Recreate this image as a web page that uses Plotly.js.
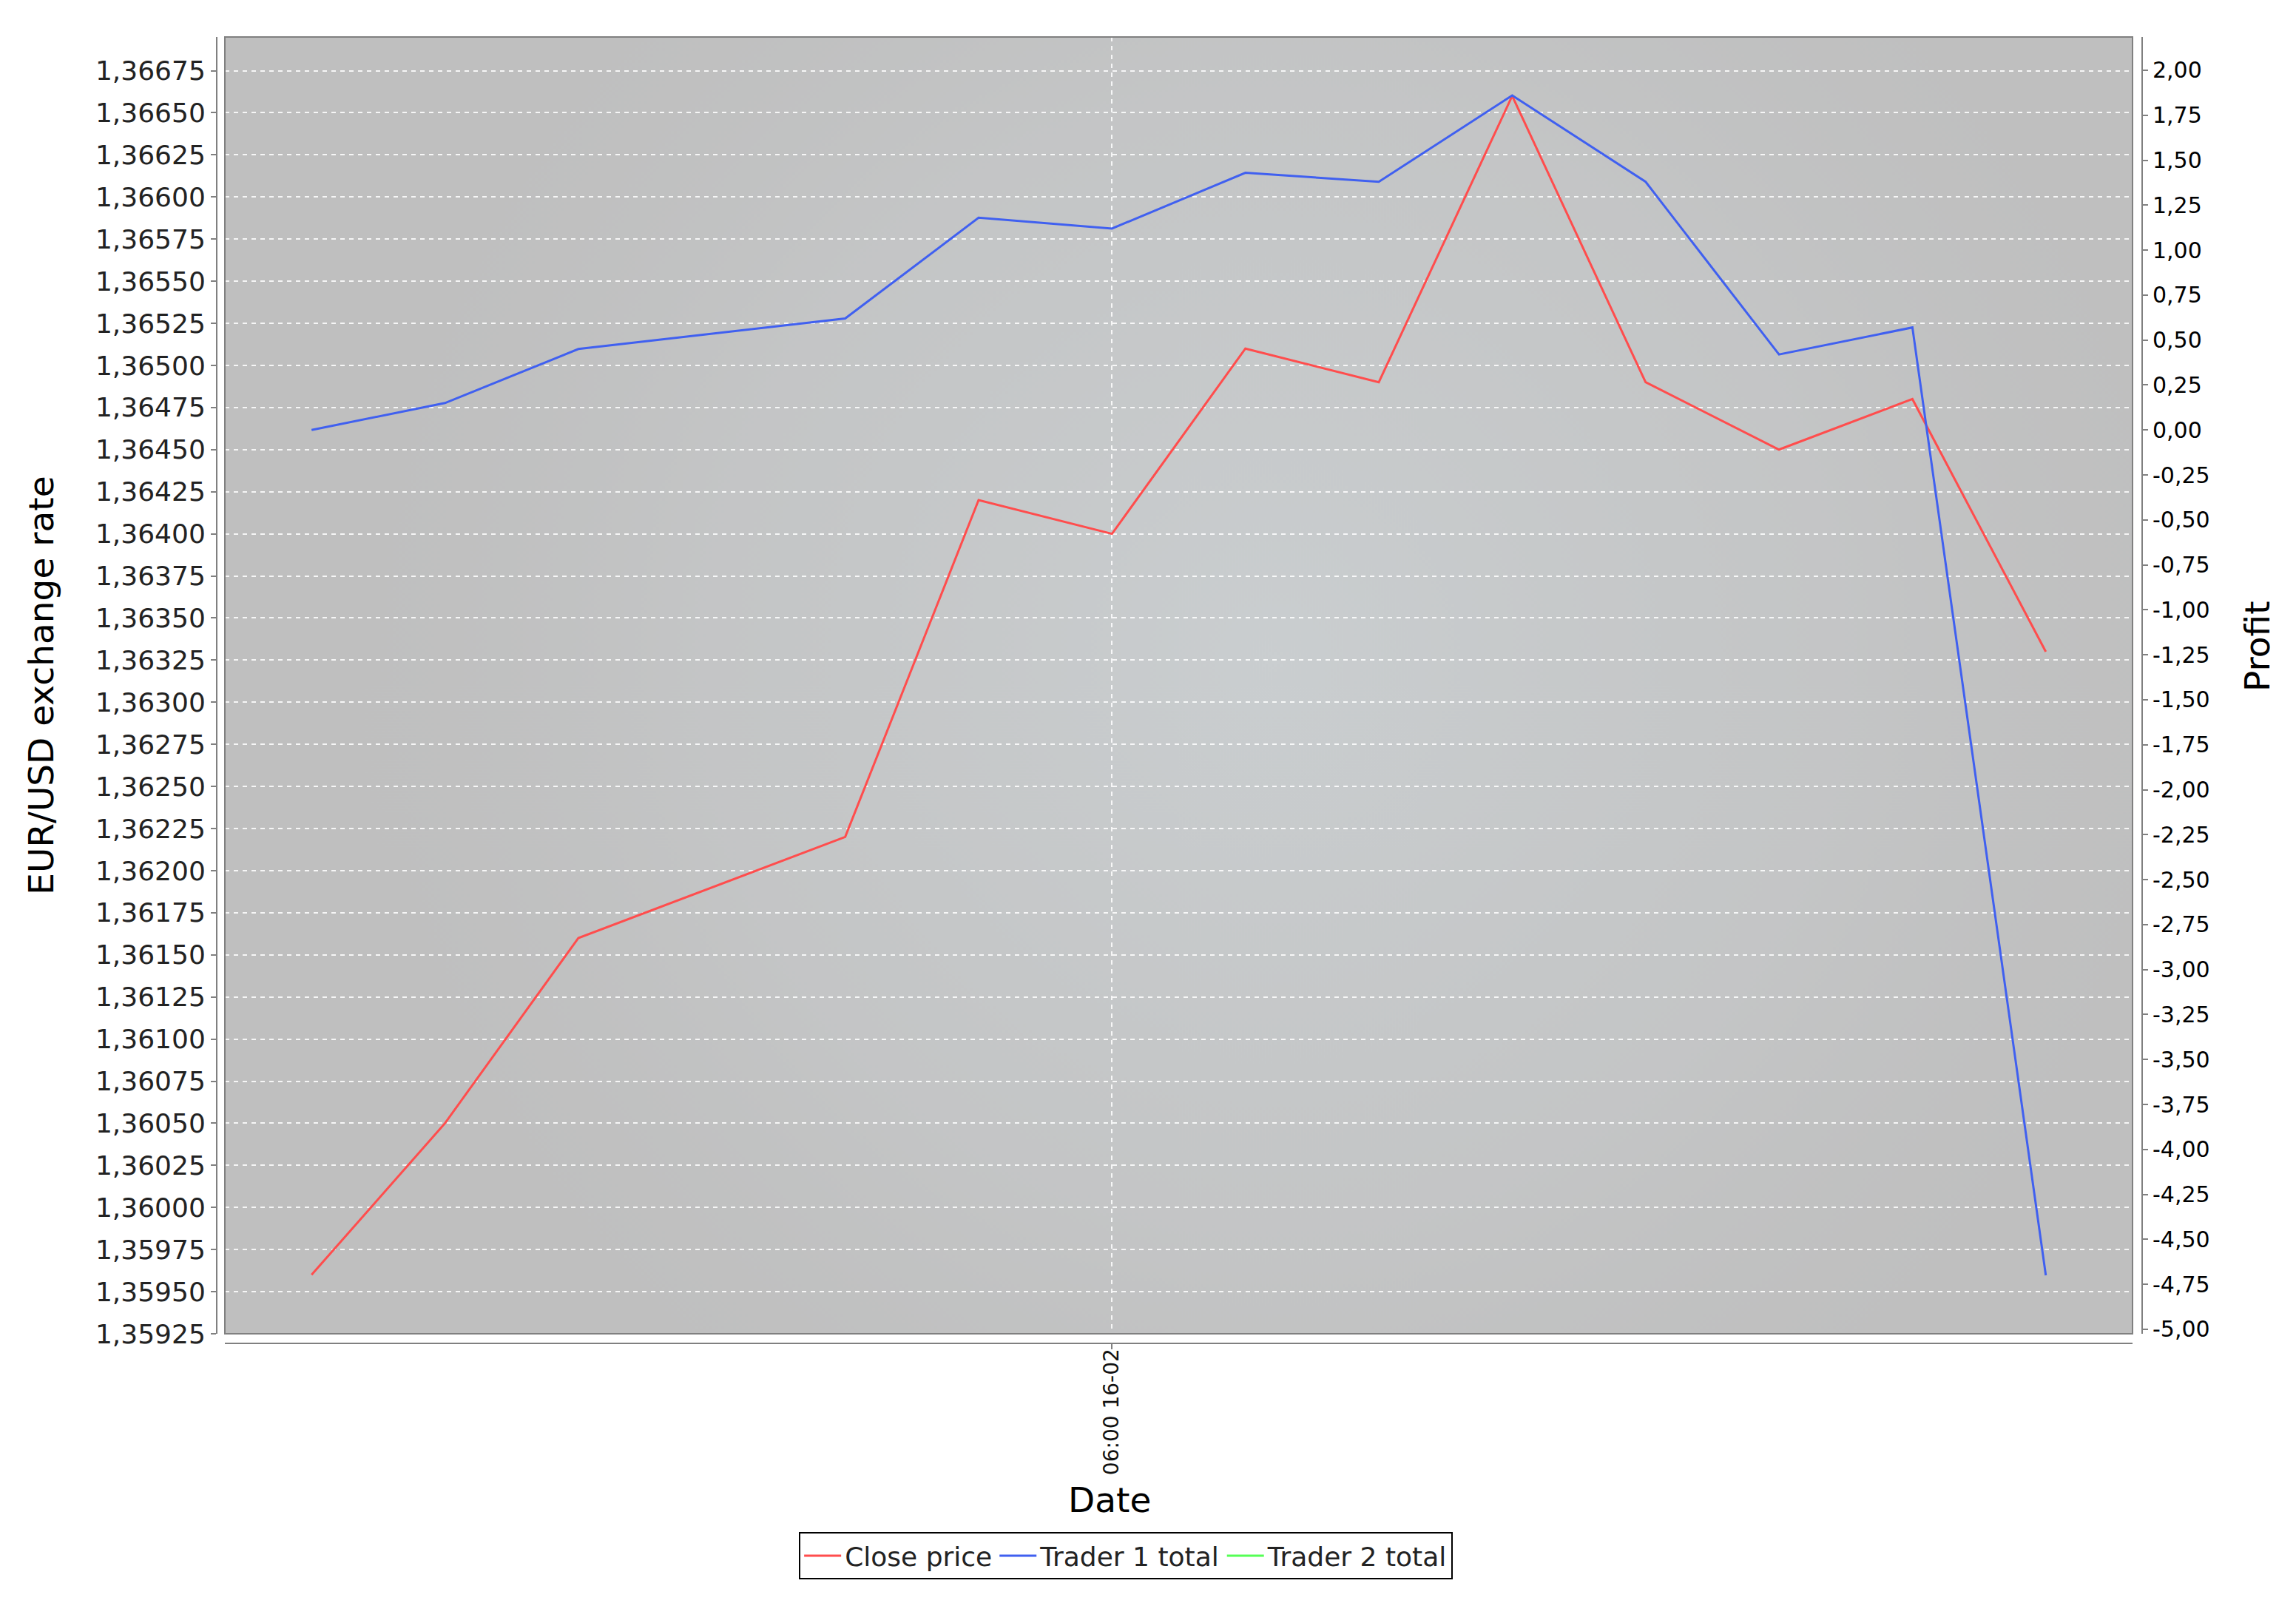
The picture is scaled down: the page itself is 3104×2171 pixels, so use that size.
<!DOCTYPE html>
<html>
<head>
<meta charset="utf-8">
<script src="https://cdn.plot.ly/plotly-3.0.1.min.js"></script>
<style>
  html, body { margin: 0; padding: 0; background: #ffffff; }
  #chart { width: 3104px; height: 2171px; }
</style>
</head>
<body>
<div id="chart"></div>
<script>
// ---- Data ----
const times = [
  '2011-02-16 00:00', '2011-02-16 01:00', '2011-02-16 02:00', '2011-02-16 04:00',
  '2011-02-16 05:00', '2011-02-16 06:00', '2011-02-16 07:00', '2011-02-16 08:00',
  '2011-02-16 09:00', '2011-02-16 10:00', '2011-02-16 11:00', '2011-02-16 12:00',
  '2011-02-16 13:00'
];
const closePrice = [1.35960, 1.36050, 1.36160, 1.36220, 1.36420, 1.36400, 1.36510,
                    1.36490, 1.36660, 1.36490, 1.36450, 1.36480, 1.36330];
const trader1Total = [0.00, 0.15, 0.45, 0.62, 1.18, 1.12, 1.43,
                      1.38, 1.86, 1.38, 0.42, 0.57, -4.70];
// Trader 2 has no visible values in the chart (legend entry only)
const trader2Total = [null, null, null, null, null, null, null,
                      null, null, null, null, null, null];

const seriesNames = ['Close price', 'Trader 1 total', 'Trader 2 total'];

const xTickVals = ['2011-02-16 06:00'];
const xTickText = ['06:00 16-02'];

const profitTicks = [2.00, 1.75, 1.50, 1.25, 1.00, 0.75, 0.50, 0.25, 0.00,
                     -0.25, -0.50, -0.75, -1.00, -1.25, -1.50, -1.75, -2.00,
                     -2.25, -2.50, -2.75, -3.00, -3.25, -3.50, -3.75, -4.00,
                     -4.25, -4.50, -4.75, -5.00];
const profitTickText = profitTicks.map(v => v.toFixed(2).replace('.', ','));

const axisTitles = { x: 'Date', y: 'EUR/USD exchange rate', y2: 'Profit' };

// ---- Layout geometry ----
const W = 3104, H = 2171;
const mL = 293, mR = 208, mT = 50, mB = 355;
const paperW = W - mL - mR, paperH = H - mT - mB;
const xDom = [11 / paperW, (paperW - 13) / paperW];
const yDom = [13 / paperH, 1];

// soft radial light in the plot background
function makeBg() {
  const cw = 1290, ch = 877;
  const c = document.createElement('canvas');
  c.width = cw; c.height = ch;
  const g = c.getContext('2d');
  g.fillStyle = '#bfbfbf';
  g.fillRect(0, 0, cw, ch);
  const rg = g.createRadialGradient(cw * 0.55, ch * 0.48, 0, cw * 0.55, ch * 0.48, cw * 0.55);
  rg.addColorStop(0, 'rgba(202,206,208,1)');
  rg.addColorStop(0.55, 'rgba(198,200,201,0.7)');
  rg.addColorStop(1, 'rgba(191,191,191,0)');
  g.fillStyle = rg;
  g.fillRect(0, 0, cw, ch);
  return c.toDataURL('image/png');
}

const font = 'DejaVu Sans';

const traces = [
  { x: times, y: closePrice, name: seriesNames[0], type: 'scatter', mode: 'lines',
    line: { color: '#ff4d4d', width: 3 }, yaxis: 'y' },
  { x: times, y: trader1Total, name: seriesNames[1], type: 'scatter', mode: 'lines',
    line: { color: '#4060f0', width: 3 }, yaxis: 'y2' },
  { x: times, y: trader2Total, name: seriesNames[2], type: 'scatter', mode: 'lines',
    line: { color: '#55ff55', width: 3 }, yaxis: 'y2', showlegend: true }
];

const gridStyle = { showgrid: true, gridcolor: 'rgba(255,255,255,0.85)', gridwidth: 2, griddash: '6px,6px' };

const layout = {
  width: W, height: H,
  margin: { l: mL, r: mR, t: mT, b: mB, pad: 0 },
  paper_bgcolor: '#ffffff',
  plot_bgcolor: 'rgba(0,0,0,0)',
  separators: ', ',
  font: { family: font, color: '#000000' },
  showlegend: true,
  legend: {
    orientation: 'h', x: 0.4722, xanchor: 'center', y: -0.1444, yanchor: 'top',
    bgcolor: '#ffffff', bordercolor: '#000000', borderwidth: 2,
    font: { family: font, size: 36, color: '#222222' },
    itemwidth: 50, tracegroupgap: 0
  },
  xaxis: Object.assign({}, gridStyle, {
    type: 'date', domain: xDom, anchor: 'free', position: 0,
    range: ['2011-02-15 23:21', '2011-02-16 13:39'],
    tickmode: 'array', tickvals: xTickVals, ticktext: xTickText, tickangle: -90,
    tickfont: { family: font, size: 28, color: '#111111' },
    ticks: 'outside', ticklen: 7, tickwidth: 2, tickcolor: '#808080',
    ticklabelstandoff: -12,
    showline: true, linecolor: '#808080', linewidth: 2, zeroline: false
  }),
  yaxis: Object.assign({}, gridStyle, {
    domain: yDom, anchor: 'free', position: 0,
    range: [1.35925, 1.36695],
    tick0: 1.35925, dtick: 0.00025, tickformat: '.5f',
    tickfont: { family: font, size: 36, color: '#222222' },
    ticks: 'outside', ticklen: 7, tickwidth: 2, tickcolor: '#808080',
    showline: true, linecolor: '#808080', linewidth: 2, zeroline: false,
    title: { text: axisTitles.y, font: { family: font, size: 47, color: '#000000' }, standoff: 40 }
  }),
  yaxis2: {
    domain: yDom, overlaying: 'y', side: 'right', anchor: 'free', position: 1,
    range: [-5.025, 2.185],
    tickmode: 'array', tickvals: profitTicks, ticktext: profitTickText,
    tickfont: { family: font, size: 30, color: '#000000' },
    ticks: 'outside', ticklen: 7, tickwidth: 2, tickcolor: '#808080',
    showline: true, linecolor: '#808080', linewidth: 2, zeroline: false, showgrid: false
  },
  annotations: [
    { text: axisTitles.x, xref: 'paper', yref: 'paper', x: (1500 - mL) / paperW, y: (paperH + mT - 2027) / paperH,
      xanchor: 'center', yanchor: 'middle', showarrow: false,
      font: { family: font, size: 47, color: '#000000' } },
    { text: axisTitles.y2, xref: 'paper', yref: 'paper', x: (3051 - mL) / paperW, y: (paperH + mT - 874) / paperH,
      xanchor: 'center', yanchor: 'middle', showarrow: false, textangle: -90,
      font: { family: font, size: 47, color: '#000000' } }
  ],
  images: [{
    source: makeBg(), xref: 'paper', yref: 'paper',
    x: xDom[0], y: 1, sizex: xDom[1] - xDom[0], sizey: 1 - yDom[0],
    xanchor: 'left', yanchor: 'top', sizing: 'stretch', layer: 'below'
  }],
  shapes: [{
    type: 'rect', xref: 'paper', yref: 'paper',
    x0: xDom[0], x1: xDom[1], y0: yDom[0], y1: 1,
    line: { color: '#808080', width: 2 }, fillcolor: 'rgba(0,0,0,0)', layer: 'above'
  }]
};

Plotly.newPlot('chart', traces, layout, { displayModeBar: false, responsive: false });
</script>
</body>
</html>
